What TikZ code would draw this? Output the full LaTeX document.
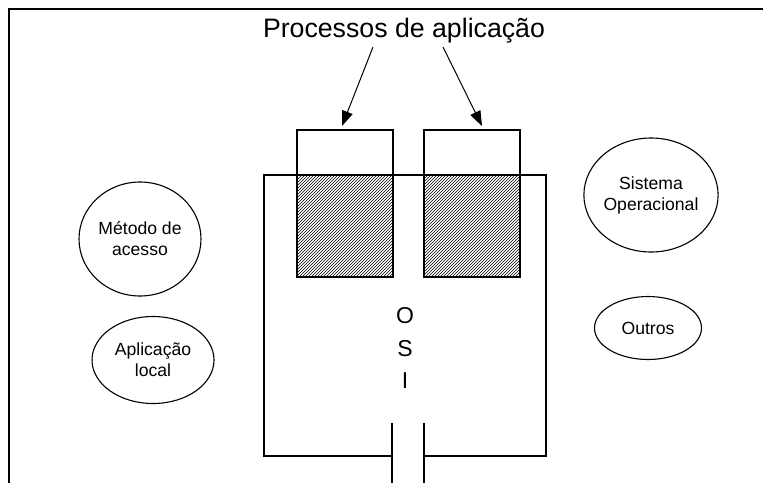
\documentclass[tikz,border=0pt]{standalone}
\usepackage{fontspec}
\setmainfont{Liberation Sans}
\usetikzlibrary{arrows.meta,shapes.geometric,patterns}
\begin{document}
\begin{tikzpicture}[
        x=1pt, y=-1pt,
        line width=1.1pt,
        seta/.style={-{Triangle[length=15pt,width=11pt]}, line width=1pt},
        proc/.style={draw, rectangle, minimum width=96pt, inner sep=0pt},
        bolha/.style={draw, ellipse, inner sep=0pt, align=center,
            font=\fontsize{17.6}{21}\selectfont},
    ]
    \useasboundingbox (0,0) rectangle (763,483);
    \draw (763,9) -- (9,9) -- (9,483);

    \node[anchor=base, font=\fontsize{26.7}{30}\selectfont] (tit) at (404,37) {Processos de aplicação};

    \fill[white] (264,175) rectangle (546,456);
    \draw (392,456) -- (264,456) -- (264,175) -- (546,175) -- (546,456) -- (424,456);
    \draw (392,423) -- (392,483);
    \draw (424,423) -- (424,483);

    \node[proc, minimum height=45pt] (pe) at (345,152.5) {};
    \node[proc, minimum height=102pt, pattern=north east lines] (he) at (345,226) {};
    \node[proc, minimum height=45pt] (pd) at (472,152.5) {};
    \node[proc, minimum height=102pt, pattern=north east lines] (hd) at (472,226) {};

    \coordinate (s1) at (373,47);
    \coordinate (s2) at (443,47);
    \coordinate (t1) at (342,126);
    \coordinate (t2) at (482,126);
    \draw[seta] (s1) -- (t1);
    \draw[seta] (s2) -- (t2);

    \node[align=center, inner sep=0pt, font=\fontsize{23}{32.5}\selectfont] (osi) at (405,348) {O\\S\\I};

    \node[bolha, minimum width=122pt, minimum height=114pt] (ma) at (140,239) {Método de\\acesso};
    \node[bolha, minimum width=122pt, minimum height=87pt] (al) at (153,360) {Aplicação\\local};
    \node[bolha, minimum width=122pt, minimum height=114pt] (so) at (651,195) {Sistema\\Operacional};
    \node[bolha, minimum width=107pt, minimum height=63pt] (ou) at (648,328) {Outros};
\end{tikzpicture}
\end{document}
